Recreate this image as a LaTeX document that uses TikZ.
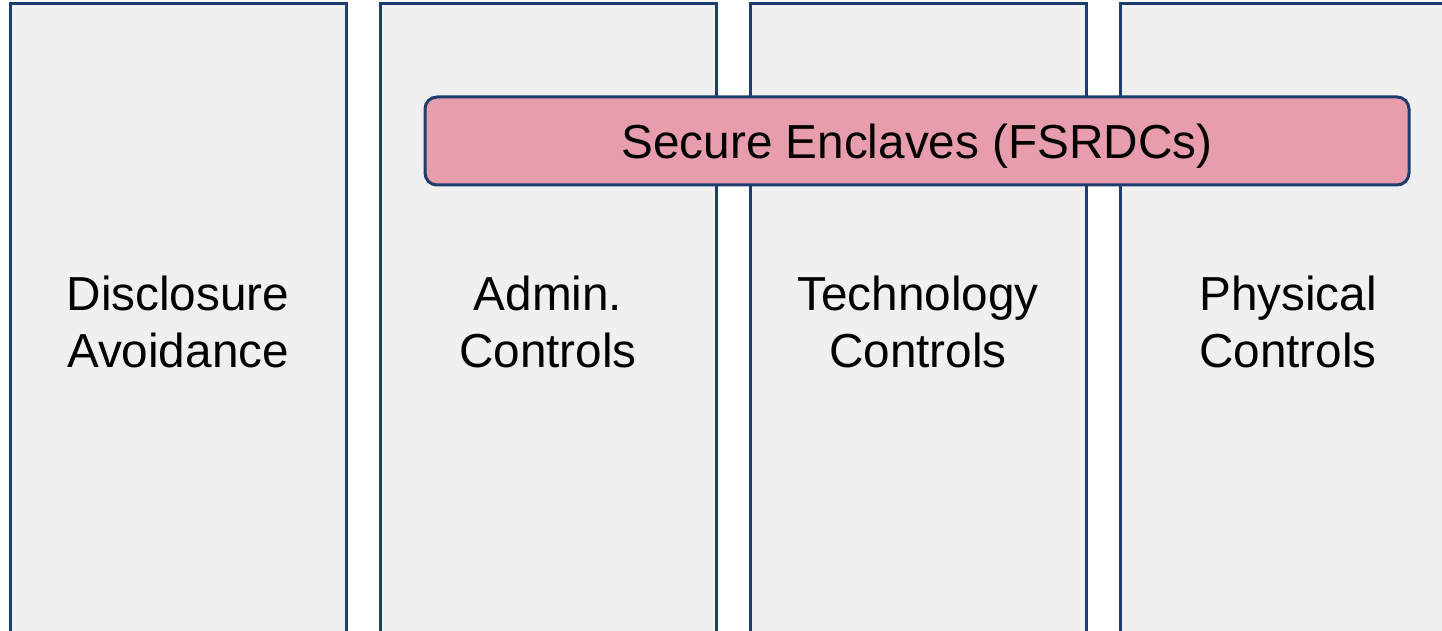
\documentclass[tikz,border=0pt]{standalone}
\usepackage{fontspec}
\setmainfont{Liberation Sans}
\usetikzlibrary{positioning}
\definecolor{pillarline}{RGB}{30,60,110}
\definecolor{pillarfill}{RGB}{240,240,240}
\definecolor{enclavefill}{RGB}{232,157,172}
\begin{document}
\begin{tikzpicture}
[
x=1pt, y=-1pt,
pillar/.style={rectangle,draw=pillarline,fill=pillarfill,line width=3pt,outer sep=0pt,
  minimum width=336pt,minimum height=636pt,align=center,
  font=\fontsize{47.7}{57}\selectfont},
enclave/.style={rectangle,rounded corners=12pt,draw=pillarline,fill=enclavefill,line width=3pt,
  outer sep=0pt,minimum width=984pt,minimum height=88pt,text height=45pt,text depth=10pt,
  font=\fontsize{47.7}{57}\selectfont},
]
\useasboundingbox (0,0) rectangle (1442,631);
\clip (0,0) rectangle (1442,631);
\node (p1) [pillar] at (178,322)            {Disclosure\\Avoidance};
\node (p2) [pillar, right = 34pt of p1]     {Admin.\\Controls};
\node (p3) [pillar, right = 34pt of p2]     {Technology\\Controls};
\node (p4) [pillar, right = 34pt of p3]     {Physical\\Controls};
\node (se) [enclave] at (917,141)           {Secure Enclaves (FSRDCs)};
\end{tikzpicture}
\end{document}
